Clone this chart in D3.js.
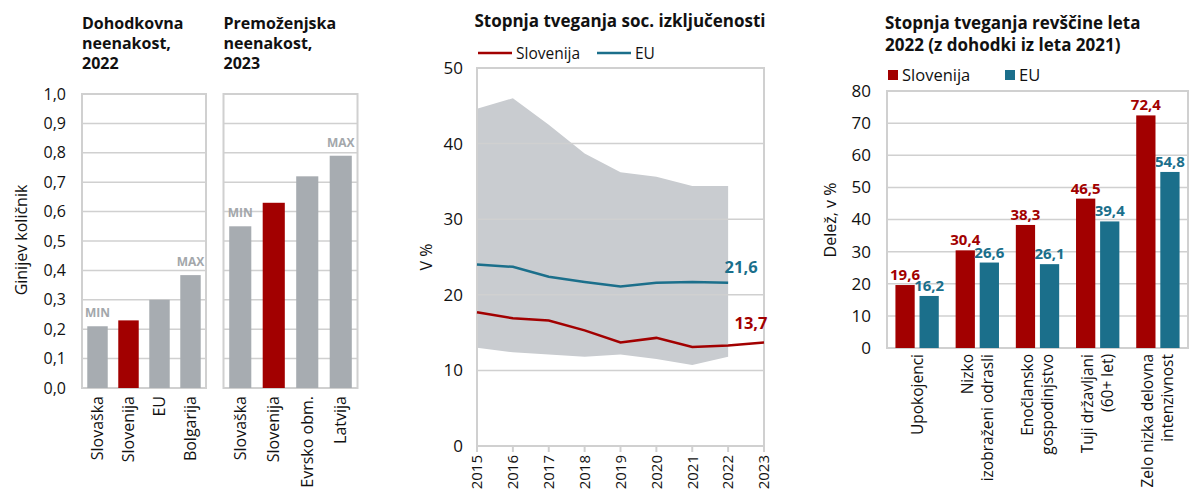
<!DOCTYPE html>
<html>
<head>
<meta charset="utf-8">
<style>
body { margin: 0; background: #fff; }
svg text { font-family: "Open Sans", "Noto Sans", sans-serif; fill: #111; }
.title { font-weight: 700; }
</style>
</head>
<body>
<div id="chart"></div>
<script src="https://cdn.jsdelivr.net/npm/d3@7"></script>
<script>
// ---- data ----
var incomeCountries = ["Slovaška", "Slovenija", "EU", "Bolgarija"];
var incomeGini = [0.21, 0.23, 0.30, 0.384];
var wealthCountries = ["Slovaška", "Slovenija", "Evrsko obm.", "Latvija"];
var wealthGini = [0.55, 0.63, 0.72, 0.79];
var giniTicks = [0, 0.1, 0.2, 0.3, 0.4, 0.5, 0.6, 0.7, 0.8, 0.9, 1.0];

var years = [2015, 2016, 2017, 2018, 2019, 2020, 2021, 2022, 2023];
var exclSlovenija = [17.7, 16.9, 16.6, 15.3, 13.7, 14.3, 13.1, 13.3, 13.7];
var exclEU = [24.0, 23.7, 22.4, 21.7, 21.1, 21.6, 21.7, 21.6];
var exclMax = [44.6, 46.0, 42.5, 38.7, 36.2, 35.6, 34.4, 34.4];
var exclMin = [13.0, 12.4, 12.1, 11.8, 12.1, 11.5, 10.7, 11.8];
var exclTicks = [0, 10, 20, 30, 40, 50];

var povertyGroups = [["Upokojenci"], ["Nizko", "izobraženi odrasli"], ["Enočlansko", "gospodinjstvo"],
                     ["Tuji državljani", "(60+ let)"], ["Zelo nizka delovna", "intenzivnost"]];
var povertySlovenija = [19.6, 30.4, 38.3, 46.5, 72.4];
var povertyEU = [16.2, 26.6, 26.1, 39.4, 54.8];
var povertyTicks = [0, 10, 20, 30, 40, 50, 60, 70, 80];

var RED = "#a20000", TEAL = "#1b6f8b", GREY_BAR = "#a7acb1", GRID = "#d0d0d0";
var fmt = function (v, d) { return v.toFixed(d).replace(".", ","); };

var svg = d3.select("#chart").append("svg").attr("width", 1190).attr("height", 489);

// ---- Gini panels ----
var gy = d3.scaleLinear().domain([0, 1]).range([388, 94]);

svg.selectAll(".gtick").data(giniTicks).enter().append("text")
    .attr("x", 66).attr("y", function (d) { return gy(d); }).attr("dy", "0.35em")
    .attr("text-anchor", "end").style("font-size", "16px").text(function (d) { return fmt(d, 1); });

svg.append("text").attr("transform", "translate(27,240) rotate(-90)")
    .attr("text-anchor", "middle").style("font-size", "16px").text("Ginijev količnik");

function giniPanel(x0, x1, cats, vals, slovIdx, title) {
    var x = d3.scaleBand().domain(cats).range([x0, x1]).paddingInner(0.34).paddingOuter(0.17);
    var g = svg.append("g");
    g.selectAll(".grid").data(giniTicks.slice(1, -1)).enter().append("line")
        .attr("x1", x0).attr("x2", x1).attr("y1", function (d) { return gy(d); }).attr("y2", function (d) { return gy(d); })
        .attr("stroke", GRID).attr("stroke-width", 1.5);
    g.append("rect").attr("x", x0).attr("y", gy(1)).attr("width", x1 - x0).attr("height", gy(0) - gy(1))
        .attr("fill", "none").attr("stroke", GRID).attr("stroke-width", 2);
    g.selectAll(".bar").data(vals).enter().append("rect")
        .attr("x", function (d, i) { return x(cats[i]); }).attr("width", x.bandwidth())
        .attr("y", function (d) { return gy(d); }).attr("height", function (d) { return gy(0) - gy(d); })
        .attr("fill", function (d, i) { return i === slovIdx ? RED : GREY_BAR; });
    g.selectAll(".xl").data(cats).enter().append("text")
        .attr("transform", function (d) { return "translate(" + (x(d) + x.bandwidth() / 2) + ",396) rotate(-90)"; })
        .attr("dy", "0.35em").attr("text-anchor", "end").style("font-size", "16px").text(function (d) { return d; });
    var mm = [{ i: 0, t: "MIN" }, { i: cats.length - 1, t: "MAX" }];
    g.selectAll(".mm").data(mm).enter().append("text")
        .attr("x", function (d) { return x(cats[d.i]) + x.bandwidth() / 2; })
        .attr("y", function (d) { return gy(vals[d.i]) - 9; })
        .attr("text-anchor", "middle").style("font-size", "12px").style("font-weight", 700)
        .style("fill", "#a3a7ab").text(function (d) { return d.t; });
    var t = g.append("text").attr("class", "title").attr("x", x0).attr("y", 29).style("font-size", "16px");
    title.forEach(function (s, i) { t.append("tspan").attr("x", x0).attr("dy", i ? 20 : 0).text(s); });
}
giniPanel(82, 206, incomeCountries, incomeGini, 1, ["Dohodkovna", "neenakost,", "2022"]);
giniPanel(223.5, 357.5, wealthCountries, wealthGini, 1, ["Premoženjska", "neenakost,", "2023"]);

// ---- social exclusion line chart ----
var lx = d3.scaleLinear().domain([2015, 2023]).range([477, 764]);
var ly = d3.scaleLinear().domain([0, 50]).range([446, 68]);
var lg = svg.append("g");

var band = years.slice(0, exclMax.length).map(function (y, i) { return { y: y, hi: exclMax[i], lo: exclMin[i] }; });
lg.append("path").datum(band)
    .attr("d", d3.area().x(function (d) { return lx(d.y); }).y0(function (d) { return ly(d.lo); }).y1(function (d) { return ly(d.hi); }))
    .attr("fill", "#c9ccd0");
lg.selectAll(".grid").data(exclTicks.slice(1, -1)).enter().append("line")
    .attr("x1", lx(2015)).attr("x2", lx(2023)).attr("y1", function (d) { return ly(d); }).attr("y2", function (d) { return ly(d); })
    .attr("stroke", GRID).attr("stroke-width", 1.5);
lg.append("rect").attr("x", lx(2015)).attr("y", ly(50)).attr("width", lx(2023) - lx(2015)).attr("height", ly(0) - ly(50))
    .attr("fill", "none").attr("stroke", GRID).attr("stroke-width", 2);
lg.selectAll(".tk").data(years).enter().append("line")
    .attr("x1", function (d) { return lx(d); }).attr("x2", function (d) { return lx(d); })
    .attr("y1", ly(0)).attr("y2", ly(0) + 6).attr("stroke", GRID).attr("stroke-width", 2);
lg.selectAll(".xl").data(years).enter().append("text")
    .attr("transform", function (d) { return "translate(" + lx(d) + ",455) rotate(-90)"; })
    .attr("dy", "0.35em").attr("text-anchor", "end").style("font-size", "15px").text(function (d) { return d; });
lg.selectAll(".yl").data(exclTicks).enter().append("text")
    .attr("x", 463).attr("y", function (d) { return ly(d); }).attr("dy", "0.35em")
    .attr("text-anchor", "end").style("font-size", "17px").text(function (d) { return d; });
lg.append("text").attr("transform", "translate(432,257) rotate(-90)")
    .attr("text-anchor", "middle").style("font-size", "16px").text("V %");

var line = d3.line().x(function (d, i) { return lx(years[i]); }).y(function (d) { return ly(d); });
lg.append("path").datum(exclEU).attr("d", line).attr("fill", "none").attr("stroke", TEAL).attr("stroke-width", 2.5);
lg.append("path").datum(exclSlovenija).attr("d", line).attr("fill", "none").attr("stroke", RED).attr("stroke-width", 2.5);

var lastEU = exclEU[exclEU.length - 1], lastSI = exclSlovenija[exclSlovenija.length - 1];
lg.append("text").attr("x", lx(2022) + 13).attr("y", ly(lastEU) - 10).attr("text-anchor", "middle")
    .style("font-size", "16.5px").style("font-weight", 700).style("fill", TEAL).text(fmt(lastEU, 1));
lg.append("text").attr("x", lx(2023) - 13).attr("y", ly(lastSI) - 13).attr("text-anchor", "middle")
    .style("font-size", "16.5px").style("font-weight", 700).style("fill", RED).text(fmt(lastSI, 1));

lg.append("text").attr("class", "title").attr("x", 620).attr("y", 27).attr("text-anchor", "middle")
    .style("font-size", "17px").text("Stopnja tveganja soc. izključenosti");
var legL = [{ n: "Slovenija", c: RED, x: 478 }, { n: "EU", c: TEAL, x: 597 }];
legL.forEach(function (d) {
    lg.append("line").attr("x1", d.x).attr("x2", d.x + 34).attr("y1", 53).attr("y2", 53).attr("stroke", d.c).attr("stroke-width", 2.5);
    lg.append("text").attr("x", d.x + 38).attr("y", 58.5).style("font-size", "15.5px").text(d.n);
});

// ---- poverty grouped bars ----
var px0 = 887, px1 = 1188;
var groupIdx = povertyGroups.map(function (d, i) { return i; });
var px = d3.scaleBand().domain(groupIdx).range([px0, px1]).paddingInner(0.28).paddingOuter(0.14);
var pxi = d3.scaleBand().domain(["Slovenija", "EU"]).range([0, px.bandwidth()]).paddingInner(0.2);
var py = d3.scaleLinear().domain([0, 80]).range([348, 91]);
var pg = svg.append("g");

pg.selectAll(".grid").data(povertyTicks.slice(1, -1)).enter().append("line")
    .attr("x1", px0).attr("x2", px1).attr("y1", function (d) { return py(d); }).attr("y2", function (d) { return py(d); })
    .attr("stroke", GRID).attr("stroke-width", 1.5);
pg.append("rect").attr("x", px0).attr("y", py(80)).attr("width", px1 - px0).attr("height", py(0) - py(80))
    .attr("fill", "none").attr("stroke", GRID).attr("stroke-width", 2);

var series = [{ n: "Slovenija", v: povertySlovenija, c: RED }, { n: "EU", v: povertyEU, c: TEAL }];
series.forEach(function (s) {
    pg.selectAll(".b" + s.n).data(s.v).enter().append("rect")
        .attr("x", function (d, i) { return px(i) + pxi(s.n); }).attr("width", pxi.bandwidth())
        .attr("y", function (d) { return py(d); }).attr("height", function (d) { return py(0) - py(d); })
        .attr("fill", s.c);
    pg.selectAll(".l" + s.n).data(s.v).enter().append("text")
        .attr("x", function (d, i) { return px(i) + pxi(s.n) + pxi.bandwidth() / 2; })
        .attr("y", function (d) { return py(d) - 5; }).attr("text-anchor", "middle")
        .style("font-size", "15px").style("font-weight", 700).style("fill", s.c).text(function (d) { return fmt(d, 1); });
});

pg.selectAll(".yl").data(povertyTicks).enter().append("text")
    .attr("x", 871).attr("y", function (d) { return py(d); }).attr("dy", "0.35em")
    .attr("text-anchor", "end").style("font-size", "17px").text(function (d) { return d; });
pg.append("text").attr("transform", "translate(836,220) rotate(-90)")
    .attr("text-anchor", "middle").style("font-size", "16px").text("Delež, v %");

povertyGroups.forEach(function (lines, i) {
    var cx = px(i) + px.bandwidth() / 2;
    lines.forEach(function (s, j) {
        var off = (j - (lines.length - 1) / 2) * 20;
        pg.append("text").attr("transform", "translate(" + (cx + off) + ",354) rotate(-90)")
            .attr("dy", "0.35em").attr("text-anchor", "end").style("font-size", "15.5px").text(s);
    });
});

var pt = pg.append("text").attr("class", "title").attr("x", 885).attr("y", 29).style("font-size", "17px");
["Stopnja tveganja revščine leta", "2022 (z dohodki iz leta 2021)"].forEach(function (s, i) {
    pt.append("tspan").attr("x", 885).attr("dy", i ? 22 : 0).text(s);
});
var legP = [{ n: "Slovenija", c: RED, x: 888 }, { n: "EU", c: TEAL, x: 1005 }];
legP.forEach(function (d) {
    pg.append("rect").attr("x", d.x).attr("y", 70).attr("width", 10).attr("height", 10).attr("fill", d.c);
    pg.append("text").attr("x", d.x + 14).attr("y", 80.5).style("font-size", "16.5px").text(d.n);
});
</script>
</body>
</html>
